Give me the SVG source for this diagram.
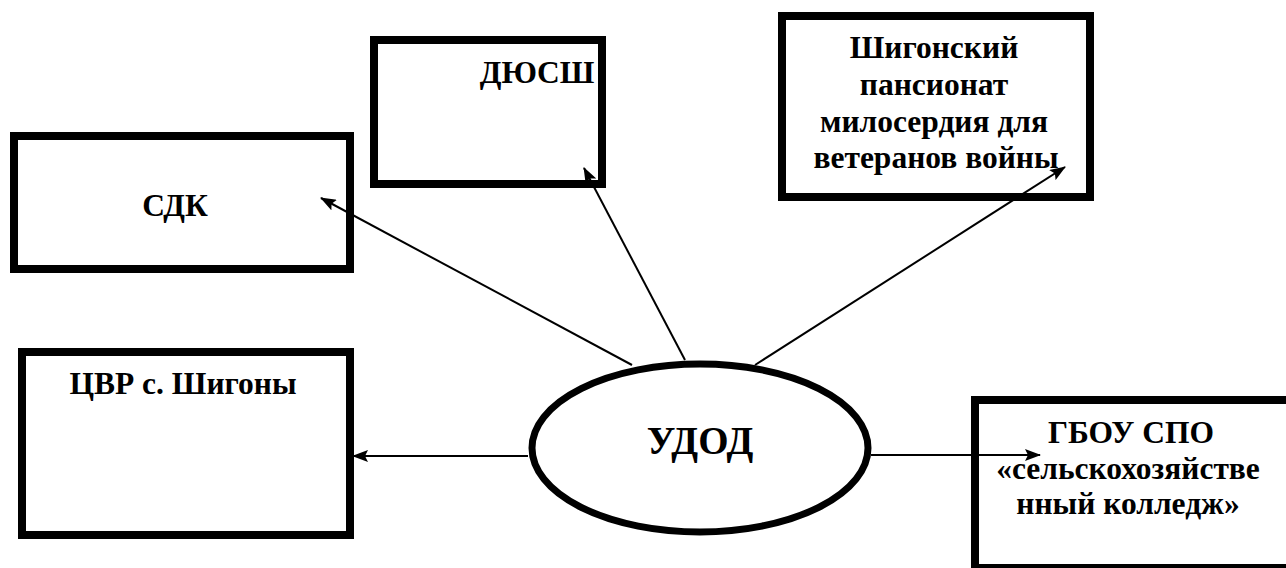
<svg xmlns="http://www.w3.org/2000/svg" width="1286" height="568" viewBox="0 0 1286 568">
<defs>
<style>
.box{fill:#fff;stroke:#000;stroke-width:8}
.t{font-family:'Liberation Serif','Times New Roman',serif;font-weight:bold;font-size:31.5px;fill:#000;text-anchor:middle}
.c{stroke:#000;stroke-width:2;fill:none;marker-end:url(#ah)}
</style>
<marker id="ah" markerWidth="16" markerHeight="12" refX="15" refY="6" orient="auto" markerUnits="userSpaceOnUse">
<path d="M0,0 L16,6 L0,12 L3,6 Z" fill="#000"/>
</marker>
</defs>
<rect width="1286" height="568" fill="#fff"/>
<g id="sdk">
<rect class="box" x="14" y="136" width="336" height="133"/>
<text class="t" x="175" y="216">СДК</text>
</g>
<g id="dyussh">
<rect class="box" x="374" y="40" width="228" height="144"/>
<text class="t" x="537" y="83">ДЮСШ</text>
</g>
<g id="pansionat">
<rect class="box" x="782" y="16" width="308" height="181"/>
<text class="t" x="934" y="58">Шигонский</text>
<text class="t" x="934" y="95">пансионат</text>
<text class="t" x="934" y="132">милосердия для</text>
<text class="t" x="936" y="168">ветеранов войны</text>
</g>
<g id="cvr">
<rect class="box" x="22" y="352" width="328" height="183"/>
<text class="t" x="183" y="394">ЦВР с. Шигоны</text>
</g>
<g id="gbou">
<rect class="box" x="975" y="400" width="330" height="168"/>
<text class="t" x="1131" y="443">ГБОУ СПО</text>
<text class="t" x="1128" y="479">«сельскохозяйстве</text>
<text class="t" x="1128" y="514">нный колледж»</text>
</g>
<g id="connectors">
<line class="c" x1="632" y1="365" x2="321" y2="198"/>
<line class="c" x1="685" y1="360" x2="584" y2="168"/>
<line class="c" x1="755" y1="365" x2="1065" y2="167"/>
<line class="c" x1="528" y1="456" x2="353" y2="456"/>
<line class="c" x1="871" y1="455" x2="1040" y2="455"/>
</g>
<g id="udod">
<ellipse cx="700" cy="448" rx="168" ry="84" fill="#fff" stroke="#000" stroke-width="7"/>
<text class="t" x="700" y="454" style="font-size:39px">УДОД</text>
</g>
</svg>
